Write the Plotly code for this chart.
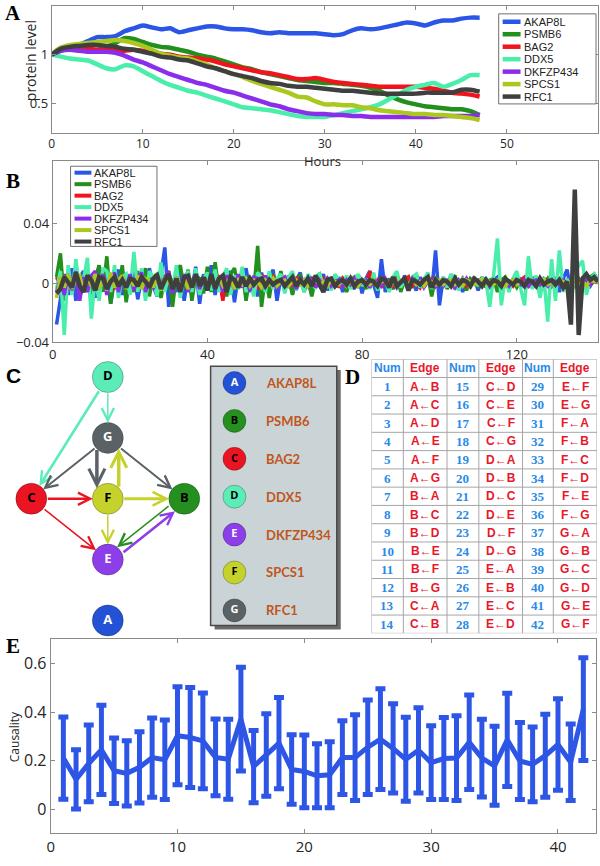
import plotly.graph_objects as go

W, H = 600, 866

# ---------------- Panel A : protein level time courses ----------------
genes = ["AKAP8L", "PSMB6", "BAG2", "DDX5", "DKFZP434", "SPCS1", "RFC1"]
gene_colors = ["#2b55e6", "#238f1c", "#f0141e", "#48eeaa", "#8b2eec", "#aac81e", "#3f3f3f"]

hours = list(range(48))
level_AKAP8L = [1.00, 1.04, 1.07, 1.10, 1.14, 1.18, 1.18, 1.19, 1.24, 1.27, 1.30, 1.28, 1.26, 1.27, 1.23, 1.25,
                1.27, 1.29, 1.29, 1.27, 1.26, 1.26, 1.25, 1.23, 1.22, 1.23, 1.22, 1.22, 1.22, 1.22, 1.21, 1.20,
                1.21, 1.25, 1.27, 1.26, 1.27, 1.29, 1.31, 1.33, 1.32, 1.30, 1.33, 1.35, 1.35, 1.37, 1.38, 1.38]
level_PSMB6 = [1.00, 1.07, 1.09, 1.10, 1.10, 1.10, 1.08, 1.12, 1.17, 1.16, 1.13, 1.10, 1.08, 1.07, 1.05, 1.03,
               1.00, 0.98, 0.96, 0.93, 0.90, 0.87, 0.85, 0.82, 0.80, 0.78, 0.76, 0.74, 0.73, 0.72, 0.71, 0.71,
               0.70, 0.69, 0.68, 0.66, 0.63, 0.58, 0.54, 0.51, 0.49, 0.47, 0.46, 0.45, 0.44, 0.44, 0.42, 0.38]
level_BAG2 = [1.00, 1.06, 1.08, 1.07, 1.06, 1.05, 1.05, 1.04, 1.04, 1.05, 1.04, 1.03, 1.01, 1.00, 0.98, 0.97,
              0.96, 0.95, 0.93, 0.90, 0.88, 0.86, 0.84, 0.82, 0.81, 0.79, 0.77, 0.75, 0.75, 0.76, 0.74, 0.72,
              0.71, 0.70, 0.69, 0.68, 0.67, 0.67, 0.67, 0.67, 0.67, 0.66, 0.65, 0.63, 0.61, 0.60, 0.59, 0.57]
level_DDX5 = [1.00, 0.98, 0.96, 0.95, 0.94, 0.90, 0.86, 0.85, 0.89, 0.88, 0.83, 0.78, 0.73, 0.69, 0.66, 0.63,
              0.61, 0.58, 0.55, 0.52, 0.49, 0.46, 0.45, 0.44, 0.43, 0.41, 0.39, 0.37, 0.36, 0.36, 0.36, 0.38,
              0.40, 0.42, 0.44, 0.46, 0.49, 0.54, 0.59, 0.64, 0.67, 0.69, 0.71, 0.67, 0.70, 0.74, 0.79, 0.79]
level_DKFZP434 = [1.00, 1.04, 1.05, 1.04, 1.03, 1.03, 1.03, 1.02, 0.99, 0.95, 0.92, 0.88, 0.84, 0.80, 0.77, 0.74,
                  0.71, 0.69, 0.66, 0.63, 0.61, 0.58, 0.55, 0.52, 0.49, 0.47, 0.44, 0.42, 0.40, 0.39, 0.39, 0.38,
                  0.38, 0.37, 0.37, 0.36, 0.36, 0.36, 0.36, 0.36, 0.36, 0.36, 0.36, 0.37, 0.37, 0.37, 0.37, 0.38]
level_SPCS1 = [1.00, 1.07, 1.10, 1.11, 1.12, 1.13, 1.14, 1.15, 1.14, 1.12, 1.09, 1.05, 1.01, 0.99, 0.97, 0.96,
               0.93, 0.90, 0.86, 0.83, 0.80, 0.77, 0.73, 0.70, 0.67, 0.64, 0.61, 0.57, 0.56, 0.52, 0.49, 0.49,
               0.48, 0.48, 0.46, 0.45, 0.43, 0.42, 0.41, 0.40, 0.39, 0.39, 0.38, 0.38, 0.37, 0.36, 0.35, 0.33]
level_RFC1 = [1.00, 1.06, 1.08, 1.09, 1.10, 1.10, 1.09, 1.08, 1.06, 1.05, 1.03, 1.01, 0.98, 0.97, 0.95, 0.94,
              0.91, 0.88, 0.86, 0.83, 0.80, 0.78, 0.76, 0.73, 0.71, 0.70, 0.68, 0.67, 0.67, 0.66, 0.65, 0.64,
              0.63, 0.63, 0.62, 0.61, 0.60, 0.60, 0.60, 0.60, 0.60, 0.61, 0.61, 0.61, 0.61, 0.64, 0.64, 0.62]
levels = [level_AKAP8L, level_PSMB6, level_BAG2, level_DDX5, level_DKFZP434, level_SPCS1, level_RFC1]

# ---------------- Panel B : successive differences ----------------
steps = list(range(1, 142))
diff_AKAP8L = [-0.028, -0.01, 0.006, -0.008, 0.01, -0.012, 0.004, 0.008, -0.006, 0.003, -0.01, 0.012, -0.004, 0.006, -0.014, 0.002, 0.009, -0.008, 0.005, -0.003,
               0.007, -0.011, 0.004, -0.006, 0.01, -0.002, -0.009, 0.006, 0.024, -0.016, 0.003, -0.006, 0.009, -0.012, 0.005, -0.004, 0.011, -0.014, 0.006, -0.003,
               0.012, -0.008, 0.004, -0.01, 0.003, 0.008, -0.013, 0.005, -0.002, 0.01, -0.006, 0.004, -0.009, 0.007, -0.005, 0.002, 0.009, -0.012, 0.004, -0.003,
               0.005, -0.007, 0.002, 0.007, -0.004, 0.003, -0.008, 0.005, -0.002, 0.006, -0.005, 0.002, -0.003, 0.004, -0.006, 0.003, 0.001, -0.004, 0.005, -0.007,
               0.003, 0.008, -0.002, -0.01, 0.016, -0.006, 0.002, -0.004, 0.003, -0.002, 0.005, -0.003, 0.001, -0.005, 0.004, -0.002, 0.003, -0.006, 0.022, -0.015,
               0.004, -0.003, 0.006, -0.004, 0.002, -0.006, 0.003, -0.001, 0.004, -0.005, 0.002, 0.003, -0.004, 0.002, 0.004, -0.003, 0.001, -0.004, 0.003, -0.002,
               0.002, -0.003, 0.004, -0.002, 0.003, -0.005, 0.002, 0.001, -0.003, 0.004, -0.006, 0.003, 0.009, -0.005, 0.002, -0.004, 0.003, 0.001, -0.002, 0.003, 0.001]
diff_PSMB6 = [0.004, 0.02, -0.012, 0.008, -0.006, 0.01, -0.01, 0.004, 0.006, -0.008, 0.003, 0.012, -0.006, 0.018, -0.014, 0.005, -0.002, 0.012, -0.013, 0.004,
              -0.006, 0.008, -0.004, 0.01, -0.009, 0.004, 0.006, -0.01, 0.003, 0.008, -0.016, 0.006, 0.012, -0.004, 0.009, -0.012, 0.005, 0.003, -0.007, 0.011,
              -0.006, 0.014, -0.005, 0.003, -0.009, 0.006, 0.01, -0.004, 0.008, -0.012, 0.004, -0.006, 0.025, -0.016, 0.004, -0.01, 0.006, -0.003, 0.008, -0.005,
              0.004, -0.008, 0.003, 0.005, -0.006, 0.002, -0.009, 0.004, 0.006, -0.004, 0.003, -0.002, 0.005, -0.003, 0.004, -0.006, 0.002, 0.004, -0.003, 0.002,
              -0.004, 0.003, 0.002, -0.005, 0.004, -0.002, 0.003, -0.004, 0.005, -0.006, 0.002, 0.004, -0.003, 0.006, -0.002, 0.003, 0.005, -0.009, 0.004, -0.002,
              0.003, -0.004, 0.002, 0.005, -0.003, 0.002, -0.005, 0.003, 0.001, -0.002, 0.004, -0.003, 0.002, 0.003, -0.006, 0.002, 0.004, -0.002, 0.001, -0.003,
              0.002, 0.003, -0.002, 0.004, -0.003, 0.002, -0.001, 0.003, -0.002, 0.002, 0.001, -0.003, 0.002, 0.001, -0.002, 0.003, -0.001, 0.002, 0.004, 0.006, 0.002]
diff_BAG2 = [0.004, -0.002, 0.005, -0.004, 0.003, 0.006, -0.003, 0.002, -0.005, 0.004, 0.001, -0.003, 0.005, -0.002, 0.003, -0.004, 0.002, 0.005, -0.003, 0.001,
             -0.004, 0.003, 0.002, -0.005, 0.004, -0.002, 0.003, 0.006, -0.004, 0.002, -0.003, 0.004, -0.001, 0.003, -0.005, 0.002, 0.004, -0.003, 0.001, 0.003,
             -0.004, 0.002, 0.005, -0.012, 0.008, -0.003, 0.002, -0.002, 0.004, -0.005, 0.002, 0.003, -0.004, 0.006, -0.003, 0.001, 0.004, -0.002, 0.002, -0.003,
             0.003, -0.002, 0.004, -0.001, 0.002, -0.003, 0.003, 0.001, -0.002, 0.003, -0.001, 0.002, 0.001, -0.002, 0.003, -0.001, 0.002, -0.003, 0.005, 0.002,
             -0.002, 0.008, -0.001, 0.002, -0.003, 0.002, 0.001, -0.002, 0.003, -0.001, 0.002, 0.004, -0.002, 0.001, -0.003, 0.002, 0.001, 0.003, -0.002, 0.002,
             0.001, -0.002, 0.004, 0.002, -0.001, 0.003, -0.002, 0.001, 0.002, -0.001, 0.003, 0.002, -0.002, 0.001, 0.002, -0.001, 0.002, 0.001, -0.002, 0.003,
             0.002, 0.004, -0.003, 0.002, 0.001, -0.002, 0.003, 0.001, -0.002, 0.002, 0.001, -0.001, 0.002, 0.001, -0.002, 0.001, 0.002, 0.001, -0.001, 0.002, 0.001]
diff_DDX5 = [-0.004, 0.008, -0.035, 0.012, -0.008, 0.016, -0.006, 0.003, 0.017, -0.024, 0.004, -0.012, 0.01, 0.008, -0.006, 0.012, -0.01, 0.004, 0.006, -0.008,
             0.021, -0.006, 0.01, -0.012, 0.008, 0.003, -0.009, 0.014, -0.006, 0.006, -0.004, 0.012, -0.01, 0.004, 0.008, -0.006, 0.01, -0.008, 0.003, 0.007,
             -0.005, 0.009, -0.006, 0.004, 0.01, -0.008, 0.005, -0.004, 0.011, -0.006, 0.003, -0.009, 0.007, 0.004, -0.006, 0.008, -0.004, 0.003, 0.006, -0.007,
             0.004, 0.008, -0.005, 0.003, -0.006, 0.006, 0.002, -0.004, 0.007, -0.003, 0.004, -0.005, 0.006, 0.001, -0.003, 0.005, -0.004, 0.002, 0.006, -0.002,
             0.003, -0.004, 0.007, -0.005, 0.003, 0.002, -0.006, 0.004, 0.008, -0.003, 0.002, -0.005, 0.004, 0.006, -0.003, 0.002, 0.007, -0.004, 0.003, -0.002,
             0.004, -0.003, 0.006, 0.002, -0.005, 0.003, 0.001, -0.003, 0.004, -0.002, 0.003, 0.002, -0.016, 0.005, 0.03, -0.015, 0.004, -0.006, 0.003, 0.008,
             -0.004, -0.015, 0.018, -0.004, 0.005, -0.01, 0.004, -0.026, 0.016, -0.012, 0.022, -0.006, 0.003, -0.015, 0.008, 0.012, 0.015, -0.008, 0.002, 0.006, 0.002]
diff_DKFZP434 = [-0.006, 0.003, -0.008, 0.006, -0.005, 0.008, -0.012, 0.004, -0.006, 0.005, 0.008, -0.004, 0.006, -0.008, 0.003, 0.007, -0.006, 0.004, -0.003, 0.006,
                 -0.005, 0.004, 0.007, -0.006, 0.003, -0.004, 0.006, -0.005, 0.004, 0.008, -0.007, 0.004, -0.003, 0.006, -0.006, 0.002, 0.005, -0.004, 0.003, -0.005,
                 0.006, -0.003, 0.004, -0.006, 0.005, 0.002, -0.004, 0.006, -0.003, 0.002, -0.005, 0.004, 0.003, -0.004, 0.005, -0.002, 0.003, -0.004, 0.002, 0.004,
                 -0.003, 0.002, -0.004, 0.003, 0.001, -0.002, 0.004, -0.003, 0.002, -0.001, 0.003, -0.002, 0.001, 0.002, -0.003, 0.002, -0.001, 0.003, -0.002, 0.001,
                 0.002, -0.003, 0.002, 0.001, -0.002, 0.003, -0.001, 0.002, -0.003, 0.001, 0.002, -0.002, 0.003, -0.001, 0.002, -0.003, 0.001, 0.002, -0.002, 0.001,
                 -0.002, 0.002, 0.001, -0.003, 0.002, -0.001, 0.003, -0.002, 0.001, 0.002, -0.001, 0.002, -0.002, 0.001, 0.002, -0.001, 0.001, -0.002, 0.002, 0.001,
                 -0.001, 0.002, -0.002, 0.001, 0.002, -0.001, 0.001, -0.002, 0.002, 0.001, -0.001, 0.002, -0.001, 0.001, 0.002, -0.002, 0.001, 0.002, -0.001, 0.001, 0.002]
diff_SPCS1 = [-0.01, 0.004, -0.003, 0.006, -0.004, 0.003, 0.005, -0.006, 0.004, -0.002, 0.006, -0.004, 0.003, -0.005, 0.007, -0.003, 0.002, 0.005, -0.004, 0.003,
              -0.002, 0.005, -0.004, 0.003, 0.002, -0.003, 0.004, -0.005, 0.003, 0.001, -0.003, 0.004, -0.002, 0.003, -0.004, 0.002, 0.003, -0.002, 0.004, -0.003,
              0.002, -0.003, 0.004, -0.002, 0.001, 0.003, -0.004, 0.002, -0.001, 0.003, -0.002, 0.002, 0.001, -0.003, 0.002, -0.001, 0.003, -0.002, 0.001, 0.002,
              -0.002, 0.001, 0.002, -0.001, 0.002, -0.002, 0.001, 0.002, -0.001, 0.001, -0.002, 0.002, 0.001, -0.001, 0.002, -0.002, 0.001, 0.001, -0.002, 0.002,
              0.001, -0.001, 0.002, -0.002, 0.001, 0.002, -0.001, 0.001, -0.002, 0.002, 0.001, -0.001, 0.002, -0.001, 0.001, -0.002, 0.002, 0.001, -0.001, 0.002,
              -0.001, 0.001, 0.002, -0.001, 0.001, -0.002, 0.002, 0.001, -0.001, 0.001, 0.002, -0.001, 0.001, -0.001, 0.002, 0.001, -0.002, 0.001, 0.002, -0.001,
              0.001, -0.001, 0.002, 0.001, -0.001, 0.001, 0.002, -0.001, 0.001, -0.001, 0.002, 0.001, -0.001, 0.001, 0.002, -0.001, 0.001, -0.002, 0.002, 0.001, 0.0]
diff_RFC1 = [-0.007, -0.004, 0.004, 0.0, -0.003, 0.007, -0.002, -0.006, 0.005, 0.002, -0.005, 0.004, 0.003, -0.004, 0.001, 0.004, -0.002, 0.002, -0.003, 0.003,
             0.002, -0.002, 0.004, 0.001, -0.003, 0.003, 0.005, -0.004, 0.002, 0.006, -0.004, 0.003, -0.006, 0.004, 0.005, -0.003, 0.006, -0.002, 0.004, -0.005,
             0.006, -0.004, 0.003, 0.005, -0.006, 0.004, 0.002, -0.003, 0.004, -0.002, 0.003, -0.001, 0.002, 0.003, -0.002, 0.002, -0.001, 0.001, 0.002, -0.002,
             0.001, 0.004, -0.002, 0.002, -0.001, 0.003, -0.002, 0.005, -0.001, -0.006, 0.002, 0.003, -0.002, 0.001, 0.002, -0.001, 0.003, -0.002, 0.001, 0.002,
             -0.001, 0.002, 0.001, -0.002, 0.003, 0.002, -0.003, 0.004, -0.002, 0.001, 0.003, -0.005, 0.002, 0.001, -0.001, 0.002, 0.004, -0.003, 0.002, -0.001,
             0.002, 0.001, -0.002, 0.003, -0.001, 0.002, 0.001, -0.002, 0.003, 0.001, -0.002, 0.002, -0.001, 0.002, 0.001, -0.002, 0.003, 0.001, -0.001, 0.002,
             0.001, -0.002, 0.002, 0.001, -0.002, 0.003, -0.001, 0.001, 0.002, -0.001, 0.002, -0.003, 0.001, -0.028, 0.063, -0.035, 0.003, 0.006, 0.002, 0.004, 0.001]
diffs = [diff_AKAP8L, diff_PSMB6, diff_BAG2, diff_DDX5, diff_DKFZP434, diff_SPCS1, diff_RFC1]

# ---------------- Panel C : network ----------------
node_names = ["A", "B", "C", "D", "E", "F", "G"]
node_colors = ["#2452d6", "#25901f", "#ea1422", "#5cecb8", "#8c3ee8", "#c6d22c", "#5b6266"]
node_text_colors = ["white", "black", "black", "black", "white", "black", "white"]
# grid position (column, row) of each node in the diagram
node_col = [0, 1, -1, 0, 0, 0, 0]
node_row = [4, 2, 2, 0, 3, 2, 1]
# directed edges (source -> target)
edges = [("D", "G"), ("D", "C"), ("G", "C"), ("G", "F"), ("F", "G"), ("G", "B"),
         ("C", "F"), ("F", "B"), ("C", "E"), ("F", "E"), ("E", "B"), ("B", "E")]
edge_widths = [1.5, 2.6, 2.0, 3.5, 3.5, 2.0, 2.5, 3.0, 1.5, 1.5, 2.6, 1.5]

# ---------------- Panel D : edge table ----------------
table_header = ["Num", "Edge", "Num", "Edge", "Num", "Edge"]
num_col1 = [1, 2, 3, 4, 5, 6, 7, 8, 9, 10, 11, 12, 13, 14]
edge_col1 = ["A←B", "A←C", "A←D", "A←E", "A←F", "A←G", "B←A", "B←C", "B←D", "B←E", "B←F", "B←G", "C←A", "C←B"]
num_col2 = [15, 16, 17, 18, 19, 20, 21, 22, 23, 24, 25, 26, 27, 28]
edge_col2 = ["C←D", "C←E", "C←F", "C←G", "D←A", "D←B", "D←C", "D←E", "D←F", "D←G", "E←A", "E←B", "E←C", "E←D"]
num_col3 = [29, 30, 31, 32, 33, 34, 35, 36, 37, 38, 39, 40, 41, 42]
edge_col3 = ["E←F", "E←G", "F←A", "F←B", "F←C", "F←D", "F←E", "F←G", "G←A", "G←B", "G←C", "G←D", "G←E", "G←F"]

# ---------------- Panel E : causality ----------------
edge_index = list(range(1, 43))
causality_mean = [0.21, 0.122, 0.188, 0.244, 0.158, 0.147, 0.172, 0.212, 0.203, 0.302, 0.295, 0.281, 0.213, 0.205,
                  0.371, 0.175, 0.223, 0.272, 0.163, 0.155, 0.137, 0.141, 0.212, 0.212, 0.255, 0.288, 0.25, 0.205,
                  0.242, 0.191, 0.208, 0.21, 0.275, 0.21, 0.178, 0.285, 0.198, 0.184, 0.22, 0.266, 0.193, 0.412]
causality_err = [0.17, 0.122, 0.158, 0.184, 0.135, 0.135, 0.147, 0.163, 0.164, 0.202, 0.206, 0.197, 0.158, 0.165,
                 0.214, 0.149, 0.17, 0.188, 0.143, 0.15, 0.132, 0.136, 0.152, 0.177, 0.195, 0.208, 0.184, 0.173,
                 0.176, 0.152, 0.169, 0.175, 0.195, 0.16, 0.163, 0.192, 0.159, 0.154, 0.171, 0.189, 0.158, 0.212]


def px(x):
    return x / W


def py(y):
    return 1 - y / H


TICK_FONT = dict(family="Open Sans", size=13, color="#262626")
AXIS_COMMON = dict(showline=True, linecolor="#8a8a8a", linewidth=1, mirror="ticks", ticks="inside",
                   ticklen=4, tickcolor="#8a8a8a", showgrid=False, zeroline=False, tickfont=TICK_FONT,
                   fixedrange=True)

fig = go.Figure()
annotations = []
shapes = []

# Panel A traces
for g, c, v in zip(genes, gene_colors, levels):
    fig.add_trace(go.Scatter(x=hours, y=v, mode="lines", line=dict(color=c, width=4.5, shape="spline", smoothing=0.6),
                             showlegend=False, xaxis="x", yaxis="y", hoverinfo="skip"))

# Panel B traces
for g, c, v in zip(genes, gene_colors, diffs):
    w = 4.5 if g == "RFC1" else 3.5
    fig.add_trace(go.Scatter(x=steps, y=v, mode="lines", line=dict(color=c, width=w),
                             showlegend=False, xaxis="x2", yaxis="y2", hoverinfo="skip"))

# Panel C : network drawn in a pixel-like diagram frame
ORIGIN_X, ORIGIN_Y, STEP_X, STEP_Y = 104.5, 381, 77, 61.5
R = 15
pos = {n: (ORIGIN_X + c * STEP_X, ORIGIN_Y + r * STEP_Y) for n, c, r in zip(node_names, node_col, node_row)}
col_of = dict(zip(node_names, node_colors))

for (s, t), w in zip(edges, edge_widths):
    x0, y0 = pos[s]
    x1, y1 = pos[t]
    so = R
    # parallel edge pairs are drawn side by side
    if {s, t} == {"G", "F"}:
        off = -11 if s == "G" else 11
        x0 += off
        x1 += off
        so = 10.5
    if {s, t} == {"E", "B"}:
        dx, dy = x1 - x0, y1 - y0
        L = (dx * dx + dy * dy) ** 0.5
        nx, ny = -dy / L, dx / L
        x0 += nx * 4
        y0 += ny * 4
        x1 += nx * 4
        y1 += ny * 4
    annotations.append(dict(x=x1, y=y1, ax=x0, ay=y0, xref="x3", yref="y3", axref="x3", ayref="y3",
                            text="", showarrow=True, arrowhead=5, arrowsize=max(0.9, 2.4 / w), arrowwidth=w,
                            arrowcolor=col_of[s], standoff=so, startstandoff=so))

fig.add_trace(go.Scatter(x=[pos[n][0] for n in node_names], y=[pos[n][1] for n in node_names],
                         mode="markers+text", text=[f"<b>{n}</b>" for n in node_names],
                         textfont=dict(family="Open Sans", size=13, color=node_text_colors),
                         marker=dict(size=31, color=node_colors, line=dict(color="rgba(0,0,0,0.25)", width=1)),
                         showlegend=False, xaxis="x3", yaxis="y3", hoverinfo="skip"))

# key box for the network
KEY_X0, KEY_X1, KEY_Y0, KEY_Y1 = 208, 335, 370, 632
shapes += [
    dict(type="rect", xref="x3", yref="y3", x0=KEY_X0 + 4, x1=KEY_X1 + 4, y0=KEY_Y0 + 4, y1=KEY_Y1 + 4,
         fillcolor="#6a6a6a", line=dict(width=0), layer="below"),
    dict(type="rect", xref="x3", yref="y3", x0=KEY_X0, x1=KEY_X1, y0=KEY_Y0, y1=KEY_Y1,
         fillcolor="#cad4d6", line=dict(color="#4a4a4a", width=1.5), layer="below"),
]
key_rows = [387 + k * 38.3 for k in range(7)]
fig.add_trace(go.Scatter(x=[232] * 7, y=key_rows, mode="markers+text", text=[f"<b>{n}</b>" for n in node_names],
                         textfont=dict(family="Open Sans", size=11, color=node_text_colors),
                         marker=dict(size=23, color=node_colors, line=dict(color="rgba(0,0,0,0.25)", width=1)),
                         showlegend=False, xaxis="x3", yaxis="y3", hoverinfo="skip"))
for g, yy in zip(genes, key_rows):
    annotations.append(dict(x=262, y=yy, xref="x3", yref="y3", text=f"<b>{g}</b>", showarrow=False,
                            xanchor="left", yanchor="middle",
                            font=dict(family="Lato", size=13, color="#c0561c")))

# Panel D : table drawn on its own (column, row) frame
BLUE_T, RED_T = "#2a8ae6", "#e8182a"
col_widths = [32, 44, 32, 44, 31, 44]
col_edges = [0]
for cw in col_widths:
    col_edges.append(col_edges[-1] + cw)
n_rows = 1 + len(num_col1)
GRID = dict(color="#a6a6a6", width=1)
for xe in col_edges:
    shapes.append(dict(type="line", xref="x5", yref="y5", x0=xe, x1=xe, y0=0, y1=n_rows, line=GRID))
for r in range(n_rows + 1):
    shapes.append(dict(type="line", xref="x5", yref="y5", x0=0, x1=col_edges[-1], y0=r, y1=r, line=GRID))
columns = [num_col1, edge_col1, num_col2, edge_col2, num_col3, edge_col3]
for ci, (head, vals) in enumerate(zip(table_header, columns)):
    xc = (col_edges[ci] + col_edges[ci + 1]) / 2
    is_num = ci % 2 == 0
    color = BLUE_T if is_num else RED_T
    annotations.append(dict(x=xc, y=0.5, xref="x5", yref="y5", text=f"<b>{head}</b>", showarrow=False,
                            xanchor="center", yanchor="middle",
                            font=dict(family="Liberation Sans", size=12, color=color)))
    for ri, v in enumerate(vals):
        annotations.append(dict(x=xc, y=ri + 1.5, xref="x5", yref="y5", text=f"<b>{v}</b>", showarrow=False,
                                xanchor="center", yanchor="middle",
                                font=dict(family="Liberation Serif" if is_num else "Liberation Sans",
                                          size=13 if is_num else 12, color=color)))

# Panel E
EBLUE = "#2d56e6"
fig.add_trace(go.Scatter(x=edge_index, y=causality_mean, mode="lines",
                         line=dict(color=EBLUE, width=5),
                         error_y=dict(type="data", array=causality_err, visible=True, color=EBLUE,
                                      thickness=5, width=5),
                         showlegend=False, xaxis="x4", yaxis="y4", hoverinfo="skip"))


# ---- custom legends for panels A and B
def add_legend(x0, x1, y0, y1, line_x0, line_x1, text_x, row0, dy, lw):
    shapes.append(dict(type="rect", xref="paper", yref="paper", x0=px(x0), x1=px(x1), y0=py(y1), y1=py(y0),
                       fillcolor="white", line=dict(color="#707070", width=1)))
    for k, (g, c) in enumerate(zip(genes, gene_colors)):
        yy = row0 + k * dy
        shapes.append(dict(type="line", xref="paper", yref="paper", x0=px(line_x0), x1=px(line_x1),
                           y0=py(yy), y1=py(yy), line=dict(color=c, width=lw)))
        annotations.append(dict(x=px(text_x), y=py(yy), xref="paper", yref="paper", text=g, showarrow=False,
                                xanchor="left", yanchor="middle",
                                font=dict(family="Liberation Sans", size=11, color="#222")))


add_legend(498, 596, 14, 105, 502, 520, 521, 22, 12.6, 4.5)
add_legend(67, 154, 168, 249, 71, 88, 89, 174.5, 11.6, 4)

# panel letters and axis titles
for letter, x, y, fam in [("A", 9, 13, "Liberation Serif"), ("B", 9, 183, "Liberation Serif"),
                          ("C", 10, 379, "Liberation Sans"), ("D", 351, 381, "Liberation Serif"),
                          ("E", 9, 653, "Liberation Serif")]:
    annotations.append(dict(x=px(x), y=py(y), xref="paper", yref="paper", text=f"<b>{letter}</b>",
                            showarrow=False, xanchor="center", yanchor="middle",
                            font=dict(family=fam, size=21, color="black")))
annotations.append(dict(x=px(27), y=py(61), xref="paper", yref="paper", text="protein level", textangle=-90,
                        showarrow=False, xanchor="center", yanchor="middle",
                        font=dict(family="Open Sans", size=14, color="#262626")))
annotations.append(dict(x=px(321), y=py(163), xref="paper", yref="paper", text="Hours", borderpad=0,
                        showarrow=False, xanchor="center", yanchor="middle",
                        font=dict(family="Open Sans", size=13, color="#262626")))
annotations.append(dict(x=px(10), y=py(744), xref="paper", yref="paper", text="Causality", textangle=-90,
                        showarrow=False, xanchor="center", yanchor="middle",
                        font=dict(family="Open Sans", size=12, color="#262626")))

fig.update_layout(
    width=W, height=H, margin=dict(l=0, r=0, t=0, b=0),
    paper_bgcolor="white", plot_bgcolor="rgba(0,0,0,0)", showlegend=False,
    xaxis=dict(domain=[px(48), px(598)], range=[0, 60], tickvals=[0, 10, 20, 30, 40, 50], anchor="y",
               **{**AXIS_COMMON, "tickfont": dict(family="Open Sans", size=12, color="#262626")}),
    yaxis=dict(domain=[py(134), py(6)], range=[0.2, 1.5], tickvals=[0.5, 1, 1.5], ticktext=["0.5", "1", "1.5"],
               anchor="x", **AXIS_COMMON),
    xaxis2=dict(domain=[px(49), px(598)], range=[0, 141], tickvals=[0, 40, 80, 120], anchor="y2", **AXIS_COMMON),
    yaxis2=dict(domain=[py(346), py(163)], range=[-0.04, 0.082], tickvals=[-0.04, 0, 0.04],
                ticktext=["\u22120.04", "0", "0.04"], anchor="x2", **AXIS_COMMON),
    xaxis3=dict(domain=[0, px(340)], range=[0, 340], visible=False, fixedrange=True, anchor="y3"),
    yaxis3=dict(domain=[py(650), py(350)], range=[650, 350], visible=False, fixedrange=True, anchor="x3"),
    xaxis4=dict(domain=[px(47), px(596)], range=[0, 43], tickvals=[0, 10, 20, 30, 40], anchor="y4",
                **{**AXIS_COMMON, "tickfont": dict(family="Open Sans", size=15, color="#262626")}),
    yaxis4=dict(domain=[py(842), py(646)], range=[-0.1, 0.7], tickvals=[0, 0.2, 0.4, 0.6],
                ticktext=["0", "0.2", "0.4", "0.6"], anchor="x4",
                **{**AXIS_COMMON, "tickfont": dict(family="Open Sans", size=16, color="#262626")}),
    xaxis5=dict(domain=[px(370), px(597)], range=[0, sum(col_widths)], visible=False, fixedrange=True,
                anchor="y5"),
    yaxis5=dict(domain=[py(640), py(363)], range=[n_rows, 0], visible=False, fixedrange=True, anchor="x5"),
    shapes=shapes, annotations=annotations,
)

fig.write_html("out.html", config={"displayModeBar": False},
               post_script="document.body.style.margin='0';")
